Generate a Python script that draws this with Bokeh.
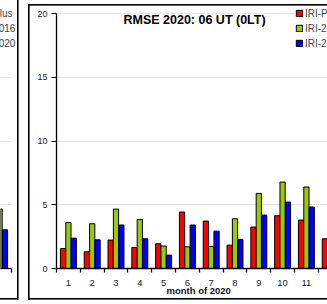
from bokeh.plotting import figure
from bokeh.layouts import row
from bokeh.models import (FixedTicker, Label, Legend, LegendItem, ColumnDataSource, Range1d)
from bokeh.transform import dodge
from bokeh.embed import file_html
from bokeh.resources import INLINE

# ---- data (this chart) ----
months = [1, 2, 3, 4, 5, 6, 7, 8, 9, 10, 11, 12]
month_labels = [str(m) for m in months]
iri_plus = [1.57, 1.31, 2.23, 1.65, 1.94, 4.43, 3.72, 1.83, 3.25, 4.14, 3.80, 2.33]
iri_2016 = [3.61, 3.51, 4.66, 3.85, 1.76, 1.70, 1.73, 3.90, 5.89, 6.78, 6.39, 4.73]
iri_2020 = [2.38, 2.25, 3.41, 2.33, 1.05, 3.41, 2.93, 2.28, 4.19, 5.21, 4.82, 3.00]
series_names = ["IRI-Plus", "IRI-2016", "IRI-2020"]
series_colors = ["#FF0000", "#99CC00", "#0000FF"]
y_ticks = [0, 5, 10, 15, 20]
chart_title = "RMSE 2020: 06 UT (0LT)"
x_title = "month of 2020"

# ---- visible tail of the neighbouring chart (its month 12) ----
prev_month = [12]
prev_2016 = [4.67]
prev_2020 = [3.03]
prev_grid = [5, 10, 15]

FONT = "Liberation Sans"
PX_PER_MONTH = 23.8
PX_PER_UNIT = 12.75
Y_TOP = 262 / PX_PER_UNIT      # frame runs a little above 20 so the legend fits inside
OFFSETS = [-0.225, 0.0, 0.225]
BAR_W = 0.22

# ================= neighbouring chart (cropped strip) =================
s_x0 = 12.5 - 11 / PX_PER_MONTH
stub = figure(width=18, height=304, output_backend="svg", toolbar_location=None,
              x_range=Range1d(s_x0, 12.5 + 7 / PX_PER_MONTH), y_range=Range1d(0, Y_TOP),
              y_axis_location=None,
              min_border_left=0, min_border_right=0, min_border_top=6, min_border_bottom=36,
              outline_line_color=None, border_fill_color=None, background_fill_color=None)
stub.xgrid.grid_line_color = None
stub.ygrid.ticker = FixedTicker(ticks=prev_grid)
stub.ygrid.grid_line_color = "#E3E3E3"
stub.ygrid.cross_bounds = (s_x0, 12.5)
stub.xaxis.ticker = FixedTicker(ticks=[], minor_ticks=[12.5])
stub.xaxis.bounds = (s_x0, 12.5)
stub.xaxis.axis_line_color = "black"
stub.xaxis.axis_line_width = 1.3
stub.xaxis.minor_tick_line_color = "black"
stub.xaxis.minor_tick_line_width = 1.3
stub.xaxis.minor_tick_out = 4
stub.xaxis.minor_tick_in = 0
stub.xaxis.major_tick_line_color = None

s_src = ColumnDataSource(dict(month=prev_month, i16=prev_2016, i20=prev_2020))
s_empty = ColumnDataSource(dict(month=[], plus=[]))
s_r = [
    stub.vbar(x=dodge("month", OFFSETS[0], range=stub.x_range), top="plus", width=BAR_W,
              source=s_empty, fill_color=series_colors[0], line_color="black"),
    stub.vbar(x=dodge("month", OFFSETS[1], range=stub.x_range), top="i16", width=BAR_W,
              source=s_src, fill_color=series_colors[1], line_color="black"),
    stub.vbar(x=dodge("month", OFFSETS[2], range=stub.x_range), top="i20", width=BAR_W,
              source=s_src, fill_color=series_colors[2], line_color="black"),
]
stub.add_layout(Legend(items=[LegendItem(label=n, renderers=[r]) for n, r in zip(series_names, s_r)],
                       location=(-33, 219), padding=1, margin=0, spacing=3,
                       glyph_width=8, glyph_height=8, label_height=12, label_standoff=2,
                       label_text_font=FONT, label_text_font_size="10px",
                       border_line_color=None, background_fill_alpha=0))

# ================= main chart =================
src = ColumnDataSource(dict(month=months, plus=iri_plus, i16=iri_2016, i20=iri_2020))

p = figure(width=309, height=304, output_backend="svg", toolbar_location=None,
           title=x_title, title_location="below",
           x_range=Range1d(0.5, 0.5 + 271 / PX_PER_MONTH), y_range=Range1d(0, Y_TOP),
           min_border_left=38, min_border_right=0, min_border_top=6, min_border_bottom=36,
           outline_line_color=None, background_fill_color=None, border_fill_color=None)

p.title.align = "left"
p.title.offset = 110
p.title.standoff = -7
p.title.vertical_align = "top"
p.title.text_font = FONT
p.title.text_font_size = "9.5px"
p.title.text_font_style = "bold"
p.title.text_color = "#111111"

p.xgrid.grid_line_color = None
p.ygrid.grid_line_color = "#E3E3E3"
p.ygrid.ticker = FixedTicker(ticks=y_ticks)

p.yaxis.ticker = FixedTicker(ticks=y_ticks)
p.yaxis.bounds = (0, 20)
p.yaxis.axis_line_color = "black"
p.yaxis.axis_line_width = 1.3
p.yaxis.major_tick_line_color = "black"
p.yaxis.major_tick_out = 5
p.yaxis.major_tick_in = 0
p.yaxis.minor_tick_line_color = None
p.yaxis.major_label_standoff = 4
p.yaxis.major_label_text_font = FONT
p.yaxis.major_label_text_font_size = "9px"
p.yaxis.major_label_text_color = "#222222"

p.xaxis.ticker = FixedTicker(ticks=months, minor_ticks=[m + 0.5 for m in [0] + months])
p.xaxis.major_label_overrides = {m: l for m, l in zip(months, month_labels)}
p.xaxis.axis_line_color = "black"
p.xaxis.axis_line_width = 1.3
p.xaxis.major_tick_line_color = None
p.xaxis.major_tick_out = 0
p.xaxis.major_tick_in = 0
p.xaxis.minor_tick_line_color = "black"
p.xaxis.minor_tick_line_width = 1.3
p.xaxis.minor_tick_out = 4
p.xaxis.minor_tick_in = 0
p.xaxis.major_label_standoff = 7
p.xaxis.major_label_text_font = FONT
p.xaxis.major_label_text_font_size = "9.5px"
p.xaxis.major_label_text_color = "#222222"

renderers = []
for field, off, col in zip(["plus", "i16", "i20"], OFFSETS, series_colors):
    r = p.vbar(x=dodge("month", off, range=p.x_range), top=field, width=BAR_W, source=src,
               fill_color=col, line_color="black", line_width=1)
    renderers.append(r)

p.add_layout(Legend(items=[LegendItem(label=n, renderers=[r]) for n, r in zip(series_names, renderers)],
                    location=(239, 219), padding=1, margin=0, spacing=3,
                    glyph_width=8, glyph_height=8, label_height=12, label_standoff=2,
                    label_text_font=FONT, label_text_font_size="10px",
                    border_line_color=None, background_fill_color="white", background_fill_alpha=1))

p.add_layout(Label(x=6.30, y=19.47, text=chart_title, text_align="center", text_baseline="middle",
                   text_font=FONT, text_font_style="bold", text_font_size="12.5px", text_color="black"))

# chart-area frames of both panels, painted behind the (transparent) canvases
lines = [
    "linear-gradient(#000,#000) 27.5px 4px / 1.6px 296px no-repeat",
    "linear-gradient(#000,#000) 27.5px 4px / 300px 1.6px no-repeat",
    "linear-gradient(#000,#000) 27.5px 298.2px / 300px 1.6px no-repeat",
    "linear-gradient(#000,#000) 16.7px 0px / 1.6px 299.8px no-repeat",
    "linear-gradient(#000,#000) 0px 298.2px / 18px 1.6px no-repeat",
]
layout = row(stub, p, styles={"background": ", ".join(lines) + ", #ffffff"})

open("out.html", "w").write(file_html(layout, INLINE))
